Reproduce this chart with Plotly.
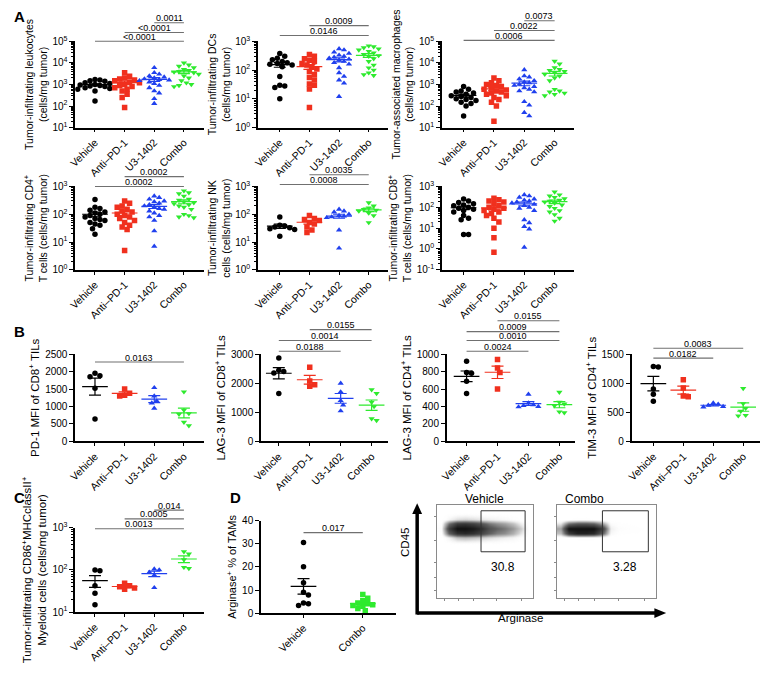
import numpy as np
import plotly.graph_objects as go

W, H = 768, 673

# ---------------- data ----------------
groups = ["Vehicle", "Anti–PD-1", "U3-1402", "Combo"]
groups_d = ["Vehicle", "Combo"]

leukocytes = [
    [1700, 1500, 1600, 1400, 1200, 1100, 1000, 950, 900, 850, 800, 700, 650, 600, 500, 170],
    [3500, 2400, 2000, 1800, 1600, 1500, 1300, 1200, 1000, 900, 800, 700, 600, 500, 350, 250, 85],
    [6000, 3500, 3000, 2500, 2200, 2000, 1800, 1700, 1600, 1500, 1300, 1100, 900, 700, 500, 400, 220, 130],
    [10000, 8000, 7000, 6000, 5000, 4500, 4000, 3800, 3500, 3000, 2500, 2000, 1500, 1200, 1000, 900, 800],
]
dcs = [
    [380, 300, 260, 230, 200, 180, 170, 160, 150, 130, 60, 30, 28, 25, 10],
    [350, 300, 250, 220, 200, 170, 150, 130, 110, 90, 70, 55, 45, 33, 30, 22, 5],
    [550, 500, 420, 380, 330, 300, 280, 260, 240, 220, 200, 180, 160, 120, 80, 60, 45, 35, 12],
    [700, 650, 600, 550, 500, 450, 400, 350, 320, 300, 250, 200, 150, 120, 100, 80, 70, 65],
]
macrophages = [
    [800, 600, 500, 450, 400, 350, 300, 280, 250, 220, 200, 180, 150, 130, 100, 35],
    [2000, 1500, 1200, 1000, 900, 800, 700, 600, 550, 500, 450, 400, 350, 300, 250, 200, 150, 100, 20],
    [4800, 2500, 2200, 1800, 1500, 1300, 1200, 1000, 900, 800, 700, 600, 500, 450, 160, 110, 50, 35],
    [12000, 9000, 6000, 5000, 4500, 4000, 3500, 3000, 2500, 2000, 1500, 600, 500, 450, 400, 350, 300],
]
cd4 = [
    [340, 180, 160, 140, 120, 110, 100, 90, 80, 70, 65, 60, 50, 45, 40, 30, 19],
    [300, 250, 200, 180, 150, 130, 120, 100, 90, 80, 70, 60, 50, 40, 35, 28, 5],
    [450, 400, 350, 300, 280, 250, 220, 200, 180, 160, 150, 130, 110, 90, 80, 60, 25, 7],
    [700, 600, 550, 450, 350, 320, 280, 260, 240, 220, 200, 180, 150, 100, 90, 80, 75],
]
nk = [
    [80, 40, 38, 35, 33, 30, 28, 16],
    [90, 70, 65, 60, 50, 45, 35, 27, 22],
    [150, 130, 120, 100, 90, 85, 80, 75, 27, 6],
    [260, 200, 170, 150, 140, 130, 110, 90, 50],
]
cd8 = [
    [250, 200, 170, 150, 130, 120, 100, 90, 80, 70, 60, 40, 30, 25, 5, 5],
    [270, 230, 200, 180, 150, 120, 100, 90, 80, 70, 60, 50, 40, 30, 20, 10, 3.5, 0.7],
    [400, 350, 300, 250, 220, 200, 180, 160, 140, 120, 100, 90, 70, 25, 18, 12, 9, 1.2],
    [550, 400, 350, 300, 260, 220, 200, 180, 160, 130, 110, 90, 70, 60, 45, 30, 22],
]
pd1_cd8 = [
    [1950, 1880, 1850, 1520, 640],
    [1500, 1380, 1320, 1300],
    [1540, 1300, 1160, 1100, 950],
    [1420, 900, 800, 780, 550, 450],
]
lag3_cd8 = [
    [2870, 2450, 2400, 2350, 1650],
    [2550, 2080, 1950, 1900],
    [2000, 1700, 1400, 1250, 1050],
    [1780, 1650, 1350, 1200, 780, 720],
]
lag3_cd4 = [
    [920, 790, 780, 690, 550],
    [940, 840, 790, 600],
    [540, 440, 420, 410, 400, 395],
    [565, 450, 430, 410, 340, 330],
]
tim3_cd4 = [
    [1290, 1280, 900, 810, 690],
    [1060, 920, 780, 770],
    [660, 640, 620, 600, 590],
    [910, 650, 570, 520, 450, 440],
]
myeloid = [
    [100, 95, 42, 28, 15],
    [48, 42, 40, 37, 35],
    [105, 100, 88, 75, 38],
    [270, 240, 175, 115, 108],
]
arginase = [
    [30.6, 20.1, 13.2, 9.0, 7.8, 4.4, 4.0, 3.3],
    [8.1, 6.4, 5.3, 4.4, 4.0, 3.6, 3.3, 3.0, 2.0, 1.0],
]

leuk_sig = [(2, 3, "0.0011"), (1, 3, "<0.0001"), (0, 3, "<0.0001")]
dcs_sig = [(1, 3, "0.0009"), (0, 3, "0.0146")]
mac_sig = [(2, 3, "0.0073"), (1, 3, "0.0022"), (0, 3, "0.0006")]
cd4_sig = [(1, 3, "0.0002"), (0, 3, "0.0002")]
nk_sig = [(1, 3, "0.0035"), (0, 3, "0.0008")]
cd8_sig = []
pd1_sig = [(0, 3, "0.0163")]
lag3cd8_sig = [(1, 3, "0.0155"), (0, 3, "0.0014"), (0, 2, "0.0188")]
lag3cd4_sig = [(1, 3, "0.0155"), (0, 3, "0.0009"), (0, 3, "0.0010"), (0, 2, "0.0024")]
tim3_sig = [(0, 3, "0.0083"), (0, 2, "0.0182")]
myeloid_sig = [(2, 3, "0.014"), (1, 3, "0.0005"), (0, 3, "0.0013")]
arg_sig = [(0, 1, "0.017")]

# flow cytometry density (rows bottom->top)
flow_titles = ["Vehicle", "Combo"]
gate_values = ["30.8", "3.28"]
vehicle_density = [
    [0, 0, 0, 0, 0, 0, 0, 0, 0, 0, 0, 0],
    [0, 0.12, 0.25, 0.28, 0.25, 0.22, 0.18, 0.15, 0.12, 0.10, 0.05, 0],
    [0.03, 0.55, 0.80, 0.85, 0.80, 0.70, 0.55, 0.45, 0.40, 0.30, 0.15, 0.01],
    [0.06, 0.75, 1.00, 1.00, 0.95, 0.85, 0.65, 0.55, 0.48, 0.38, 0.22, 0.02],
    [0.03, 0.50, 0.75, 0.78, 0.72, 0.62, 0.48, 0.40, 0.34, 0.25, 0.12, 0.01],
    [0, 0.10, 0.18, 0.20, 0.18, 0.15, 0.12, 0.10, 0.08, 0.05, 0.02, 0],
    [0, 0, 0, 0, 0, 0, 0, 0, 0, 0, 0, 0],
]
combo_density = [
    [0, 0, 0, 0, 0, 0, 0, 0, 0, 0, 0, 0],
    [0, 0.02, 0.03, 0.03, 0.03, 0.02, 0, 0, 0, 0, 0, 0],
    [0.25, 0.75, 0.90, 0.90, 0.85, 0.55, 0.08, 0.03, 0.02, 0.02, 0.01, 0],
    [0.35, 1.00, 1.00, 1.00, 1.00, 0.75, 0.12, 0.05, 0.04, 0.03, 0.02, 0],
    [0.15, 0.50, 0.60, 0.60, 0.55, 0.35, 0.06, 0.03, 0.02, 0.01, 0.01, 0],
    [0, 0.02, 0.03, 0.03, 0.02, 0.01, 0, 0, 0, 0, 0, 0],
    [0, 0, 0, 0, 0, 0, 0, 0, 0, 0, 0, 0],
]

# ---------------- styles ----------------
FONT = "Liberation Sans, Arial, sans-serif"
colors = ["#000000", "#F0301E", "#2040EE", "#2EEA2E"]
symbols = ["circle", "square", "triangle-up", "triangle-down"]
colors_d = ["#000000", "#2EEA2E"]
symbols_d = ["circle", "square"]

panels = [
    dict(data=leukocytes, sig=leuk_sig, sig_y=[16, 26, 35], log=True, yr=(1, 5),
         title="Tumor-infiltrating leukocytes<br>(cells/mg tumor)", tf=10.5,
         px=(67, 197), top=35, bot=123, first=87, step=30),
    dict(data=dcs, sig=dcs_sig, sig_y=[19, 29], log=True, yr=(0, 3),
         title="Tumor-infiltrating DCs<br>(cells/mg tumor)", tf=10.5,
         px=(252, 383), top=35, bot=123, first=274, step=30),
    dict(data=macrophages, sig=mac_sig, sig_y=[14, 24, 34], log=True, yr=(1, 5),
         title="Tumor-associated macrophages<br>(cells/mg tumor)", tf=10.5,
         px=(438, 572), top=35, bot=123, first=460, step=30.7),
    dict(data=cd4, sig=cd4_sig, sig_y=[173, 183], log=True, yr=(0, 3),
         title="Tumor-infiltrating CD4<sup>+</sup><br>T cells (cells/mg tumor)", tf=10.5,
         px=(67, 197), top=183, bot=268, first=87, step=30),
    dict(data=nk, sig=nk_sig, sig_y=[171, 181], log=True, yr=(0, 3),
         title="Tumor-infiltrating NK<br>cells (cells/mg tumor)", tf=10.5,
         px=(252, 383), top=183, bot=268, first=274, step=30),
    dict(data=cd8, sig=cd8_sig, sig_y=[], log=True, yr=(-1, 3),
         title="Tumor-infiltrating CD8<sup>+</sup><br>T cells (cells/mg tumor)", tf=10.5,
         px=(438, 572), top=183, bot=268, first=460, step=30.7),
    dict(data=pd1_cd8, sig=pd1_sig, sig_y=[362], log=False, yr=(0, 2500), dt=500,
         title="PD-1 MFI of CD8<sup>+</sup> TILs", tf=11.5,
         px=(67, 197), top=354, bot=443, first=87, step=30),
    dict(data=lag3_cd8, sig=lag3cd8_sig, sig_y=[329, 340, 351], log=False, yr=(0, 3000), dt=1000,
         title="LAG-3 MFI of CD8<sup>+</sup> TILs", tf=11.5,
         px=(255, 383), top=354, bot=443, first=273, step=31.3),
    dict(data=lag3_cd4, sig=lag3cd4_sig, sig_y=[320, 331, 340, 351], log=False, yr=(0, 1000), dt=200,
         title="LAG-3 MFI of CD4<sup>+</sup> TILs", tf=11.5,
         px=(443, 573), top=354, bot=443, first=463, step=31.3),
    dict(data=tim3_cd4, sig=tim3_sig, sig_y=[348, 358], log=False, yr=(0, 1500), dt=500,
         title="TIM-3 MFI of CD4<sup>+</sup> TILs", tf=11.5,
         px=(630, 760), top=354, bot=443, first=652, step=30.3),
    dict(data=myeloid, sig=myeloid_sig, sig_y=[513, 522, 532], log=True, yr=(1, 3),
         title="Tumor-infiltrating CD86<sup>+</sup>MHCclassII<sup>+</sup><br>Myeloid cells (cells/mg tumor)",
         tf=11.5, px=(67, 197), top=531, bot=617, first=87, step=30),
    dict(data=arginase, sig=arg_sig, sig_y=[536], log=False, yr=(0, 40), dt=10,
         title="Arginase<sup>+</sup> % of TAMs", tf=11,
         px=(255, 392), top=524, bot=618, first=298, step=60, two=True),
]


def pxx(v):
    return v / W


def pxy(v):
    return 1 - v / H


def swarm(ypx, d):
    order = np.argsort(-np.asarray(ypx))
    placed = []
    offs = np.zeros(len(ypx))
    cands = [0.0]
    for k in range(1, 60):
        cands += [k * d * 0.5, -k * d * 0.5]
    for i in order:
        y = ypx[i]
        for c in cands:
            if all((c - ox) ** 2 + (y - oy) ** 2 >= d * d for ox, oy in placed):
                offs[i] = c
                placed.append((c, y))
                break
    return offs


fig = go.Figure()
layout = {}
annotations = []
shapes = []

for n, p in enumerate(panels, start=1):
    xa = "x" if n == 1 else f"x{n}"
    ya = "y" if n == 1 else f"y{n}"
    xk = "xaxis" if n == 1 else f"xaxis{n}"
    yk = "yaxis" if n == 1 else f"yaxis{n}"
    x0, x1 = p["px"]
    top, bot = p["top"], p["bot"]
    s = p["step"]
    xr = [-(p["first"] - x0) / s, (x1 - p["first"]) / s]
    hgt = bot - top
    r0, r1 = p["yr"]
    two = p.get("two", False)
    cols = colors_d if two else colors
    syms = symbols_d if two else symbols
    names = groups_d if two else groups

    for g, vals in enumerate(p["data"]):
        v = np.asarray(vals, dtype=float)
        if p["log"]:
            ypx = (np.log10(v) - r0) / (r1 - r0) * hgt
        else:
            ypx = (v - r0) / (r1 - r0) * hgt
        offs = swarm(ypx, 5.0) / s
        fig.add_trace(go.Scatter(
            x=g + offs, y=v, mode="markers", xaxis=xa, yaxis=ya,
            marker=dict(symbol=syms[g], size=5.5, color=cols[g], line=dict(width=0)),
            showlegend=False, hoverinfo="skip"))
        m = v.mean()
        sem = v.std(ddof=1) / np.sqrt(len(v))
        hw = 13 / s
        fig.add_trace(go.Scatter(
            x=[g - hw, g + hw], y=[m, m], mode="lines", xaxis=xa, yaxis=ya,
            line=dict(color=cols[g], width=1.2), showlegend=False, hoverinfo="skip"))
        fig.add_trace(go.Scatter(
            x=[g], y=[m], mode="markers", xaxis=xa, yaxis=ya,
            marker=dict(size=1, opacity=0),
            error_y=dict(type="data", array=[sem], visible=True, width=6,
                         thickness=1.2, color=cols[g]),
            showlegend=False, hoverinfo="skip"))

    yax = dict(domain=[pxy(bot), pxy(top)], anchor=xa, showline=True, linecolor="black",
               linewidth=1.6, ticks="outside", ticklen=4, tickwidth=1.2, tickcolor="black",
               showgrid=False, zeroline=False,
               tickfont=dict(size=10, family=FONT, color="black"),
               title=dict(text=p["title"], font=dict(size=p["tf"], family=FONT, color="black"),
                          standoff=3))
    if p["log"]:
        yax.update(type="log", range=[r0, r1],
                   tickmode="array",
                   tickvals=[10.0 ** k for k in range(r0, r1 + 1)],
                   ticktext=[f"10<sup>{k}</sup>" for k in range(r0, r1 + 1)],
                   minor=dict(tickmode="array",
                              tickvals=[m * 10.0 ** k for k in range(r0, r1) for m in range(2, 10)],
                              ticks="outside", ticklen=2, tickwidth=1, tickcolor="black",
                              showgrid=False))
    else:
        yax.update(range=[r0, r1], tickmode="linear", tick0=0, dtick=p["dt"])
    xax = dict(domain=[pxx(x0), pxx(x1)], anchor=ya, range=xr, showline=True,
               linecolor="black", linewidth=1.6, ticks="outside", ticklen=3, tickwidth=1.2,
               tickcolor="black", showgrid=False, zeroline=False,
               tickmode="array", tickvals=list(range(len(names))), ticktext=names,
               tickangle=-45, tickfont=dict(size=10.5, family=FONT, color="black"))
    layout[xk] = xax
    layout[yk] = yax

    for (i, j, lab), yy in zip(p["sig"], p["sig_y"]):
        shapes.append(dict(type="line", xref=xa, yref="paper", x0=i, x1=j,
                           y0=pxy(yy), y1=pxy(yy), line=dict(color="#707070", width=1.1)))
        annotations.append(dict(x=(i + j) / 2, xref=xa, y=pxy(yy), yref="paper",
                                text=lab, showarrow=False, yanchor="bottom", xanchor="center",
                                borderpad=0, yshift=-1.5,
                                font=dict(size=9, family=FONT, color="black")))

# ---------------- flow plots ----------------
flow_boxes = [(433, 530), (554, 655)]
flow_top, flow_bot = 508, 603
ncol = len(vehicle_density[0])
xc = list(np.linspace(100 / ncol / 2, 100 - 100 / ncol / 2, ncol))
yc = [58, 65, 70, 75, 80, 85, 92]
n0 = len(panels)
for k, (dens, (bx0, bx1)) in enumerate(zip([vehicle_density, combo_density], flow_boxes)):
    n = n0 + 1 + k
    xa, ya = f"x{n}", f"y{n}"
    fig.add_trace(go.Heatmap(x=xc, y=yc, z=dens, xaxis=xa, yaxis=ya, zmin=0, zmax=1,
                             colorscale=[[0, "rgba(255,255,255,0)"], [0.2, "#d2d2d2"],
                                         [0.55, "#606060"], [1, "#111111"]],
                             zsmooth="best", showscale=False, hoverinfo="skip"))
    common = dict(showline=True, mirror=True, linecolor="#8a8a8a", linewidth=1,
                  showgrid=False, zeroline=False, ticks="outside", ticklen=2,
                  tickcolor="#8a8a8a", showticklabels=False, range=[0, 100],
                  tickmode="array", tickvals=[8, 22, 38, 62, 88])
    layout[f"xaxis{n}"] = dict(domain=[pxx(bx0), pxx(bx1)], anchor=ya, **common)
    layout[f"yaxis{n}"] = dict(domain=[pxy(flow_bot), pxy(flow_top)], anchor=xa, **common)
    # gate
    shapes.append(dict(type="rect", xref=xa, yref=ya, x0=46, x1=92, y0=50, y1=94,
                       line=dict(color="#333333", width=1)))
    annotations.append(dict(x=69, y=34, xref=xa, yref=ya, text=gate_values[k],
                            showarrow=False, font=dict(size=12, family=FONT, color="black")))
    annotations.append(dict(x=pxx((bx0 + bx1) / 2), y=pxy(502), xref="paper", yref="paper",
                            text=flow_titles[k], showarrow=False, yanchor="middle",
                            font=dict(size=12, family=FONT, color="black")))

# big arrows
ax_x, ax_y = 413, 618
shapes.append(dict(type="line", xref="paper", yref="paper", x0=pxx(ax_x), x1=pxx(ax_x),
                   y0=pxy(ax_y + 1.5), y1=pxy(516), line=dict(color="black", width=3.5)))
shapes.append(dict(type="path", xref="paper", yref="paper", fillcolor="black",
                   line=dict(color="black", width=0),
                   path=f"M {pxx(ax_x-5)},{pxy(517)} L {pxx(ax_x+5)},{pxy(517)} L {pxx(ax_x)},{pxy(506)} Z"))
shapes.append(dict(type="line", xref="paper", yref="paper", x0=pxx(ax_x), x1=pxx(654),
                   y0=pxy(ax_y), y1=pxy(ax_y), line=dict(color="black", width=3.5)))
shapes.append(dict(type="path", xref="paper", yref="paper", fillcolor="black",
                   line=dict(color="black", width=0),
                   path=f"M {pxx(653)},{pxy(ax_y-5)} L {pxx(653)},{pxy(ax_y+5)} L {pxx(665)},{pxy(ax_y)} Z"))
annotations.append(dict(x=pxx(400), y=pxy(563), xref="paper", yref="paper", text="CD45",
                        textangle=-90, showarrow=False,
                        font=dict(size=11.5, family=FONT, color="black")))
annotations.append(dict(x=pxx(542), y=pxy(631), xref="paper", yref="paper", text="Arginase",
                        showarrow=False, font=dict(size=11.5, family=FONT, color="black")))

# panel letters
for lab, lx, ly in [("A", 3, 10), ("B", 3, 331), ("C", 3, 500), ("D", 222, 500)]:
    annotations.append(dict(x=pxx(lx), y=pxy(ly), xref="paper", yref="paper", text=f"<b>{lab}</b>",
                            showarrow=False, xanchor="left", yanchor="middle",
                            font=dict(size=15, family=FONT, color="black")))

fig.update_layout(width=W, height=H, margin=dict(l=0, r=0, t=0, b=0),
                  paper_bgcolor="white", plot_bgcolor="white",
                  showlegend=False, annotations=annotations, shapes=shapes,
                  font=dict(family=FONT, color="black"), **layout)
fig.write_html("out.html", config={"displayModeBar": False},
               post_script="document.body.style.margin='0px';document.body.style.padding='0px';")
